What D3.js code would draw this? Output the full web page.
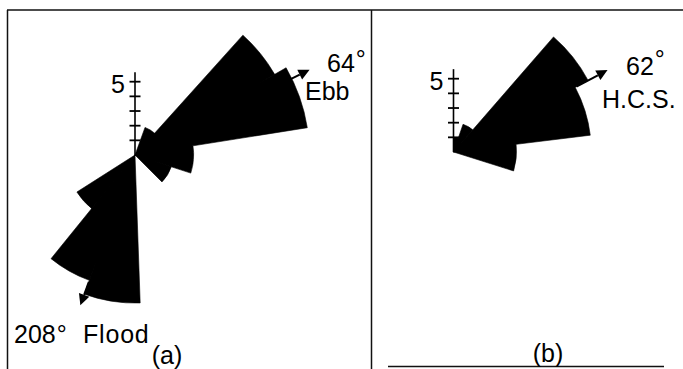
<!DOCTYPE html>
<html><head><meta charset="utf-8">
<script src="https://cdn.jsdelivr.net/npm/d3@7"></script>
<style>
body{margin:0;background:#fff}
svg{display:block}
text{font-family:"Liberation Sans",Arial,sans-serif;fill:#000}
</style>
</head><body>
<svg id="chart" width="683" height="369"></svg>
<script>
// ---- DATA ----
// Panel (a): sector bearings (degrees from north, clockwise) and lengths (scale units)
const binStartA = [20, 42, 60, 81, 108, 178, 200, 219];
const binEndA   = [42, 60, 81, 108, 135, 200, 219, 237.5];
const valuesA   = [2.0, 11.0, 11.9, 4.0, 2.6, 10.1, 9.1, 4.7];
// Panel (b)
const binStartB = [0, 19, 41, 62, 83];
const binEndB   = [19, 41, 62, 83, 107.5];
const valuesB   = [1.0, 2.0, 10.4, 9.4, 4.3];
// Scale ticks
const tickValues = [1, 2, 3, 4, 5];
const tickLabel = "5";
const axisMax = 5.65;
// Mean-direction arrows (bearing, start and end in scale units)
const arrowBearingA = [64, 200];
const arrowFromA    = [11.85, 9.2];
const arrowToA      = [13.25, 10.9];
const arrowBearingB = [62];
const arrowFromB    = [9.5];
const arrowToB      = [11.9];

// ---- LAYOUT ----
const svg = d3.select("#chart");
const r = d3.scaleLinear().domain([0, 5]).range([0, 73.3]);
const deg = d => d * Math.PI / 180;
const FS = 25;

// frame
const frame = svg.append("g").attr("stroke", "#111").attr("stroke-width", 1.5).attr("fill", "none");
frame.append("line").attr("x1", 7).attr("x2", 683).attr("y1", 10).attr("y2", 10);
frame.append("line").attr("x1", 7.5).attr("x2", 7.5).attr("y1", 10).attr("y2", 369);
frame.append("line").attr("x1", 371.5).attr("x2", 371.5).attr("y1", 10).attr("y2", 369);
frame.append("line").attr("x1", 388).attr("x2", 664).attr("y1", 366.5).attr("y2", 366.5);

function panel(cx, cy, starts, ends, vals, aB, aF, aT) {
  const g = svg.append("g").attr("transform", `translate(${cx},${cy})`);
  const data = vals.map((v, i) => ({s: starts[i], e: ends[i], v}));
  const arc = d3.arc().innerRadius(0).outerRadius(d => r(d.v))
    .startAngle(d => deg(d.s)).endAngle(d => deg(d.e));
  // all sectors as one path so adjacent sectors have no seams
  g.append("path").attr("d", data.map(d => arc(d)).join(""))
    .attr("fill", "#000").attr("stroke", "#000").attr("stroke-width", 0.6)
    .attr("stroke-linejoin", "round");
  // scale axis
  g.append("line").attr("x1", 0).attr("x2", 0).attr("y1", 0).attr("y2", -r(axisMax))
    .attr("stroke", "#000").attr("stroke-width", 1.6);
  g.selectAll("line.tick").data(tickValues).join("line").attr("class", "tick")
    .attr("x1", -5.5).attr("x2", 5.5).attr("y1", d => -r(d)).attr("y2", d => -r(d))
    .attr("stroke", "#000").attr("stroke-width", 1.8);
  g.append("text").attr("x", -10).attr("y", -r(5) + 11).attr("text-anchor", "end")
    .attr("font-size", FS).text(tickLabel);
  // arrows
  aB.forEach((b, i) => {
    const a = deg(b);
    const p0 = d3.pointRadial(a, r(aF[i]));
    const tip = d3.pointRadial(a, r(aT[i]));
    const ux = Math.sin(a), uy = -Math.cos(a);
    const hl = 11, hw = 5.5;
    const bx = tip[0] - ux * hl, by = tip[1] - uy * hl;
    g.append("line").attr("x1", p0[0]).attr("y1", p0[1]).attr("x2", bx).attr("y2", by)
      .attr("stroke", "#000").attr("stroke-width", 2);
    g.append("path").attr("d", `M${tip[0]},${tip[1]}L${bx - uy * hw},${by + ux * hw}L${bx + uy * hw},${by - ux * hw}Z`)
      .attr("fill", "#000");
  });
}

panel(135, 155, binStartA, binEndA, valuesA, arrowBearingA, arrowFromA, arrowToA);
panel(453.5, 152, binStartB, binEndB, valuesB, arrowBearingB, arrowFromB, arrowToB);

// labels
const T = (x, y, s, anchor, ls) => svg.append("text").attr("x", x).attr("y", y)
  .attr("font-size", FS).attr("text-anchor", anchor || "start")
  .attr("letter-spacing", ls || 0).text(s);
const D = (x, y, s, lift) => {
  const t = svg.append("text").attr("x", x).attr("y", y).attr("font-size", FS);
  t.append("tspan").text(s);
  t.append("tspan").attr("dy", -lift).attr("dx", 1).text("°");
};
D(327, 72, "64", 4);
T(305, 100, "Ebb");
D(14, 343, "208", 0);
T(83, 343, "Flood", "start", 0.8);
T(167, 364, "(a)", "middle");
D(626, 75, "62", 7);
T(602, 108, "H.C.S.");
T(548, 362, "(b)", "middle");
</script>
</body></html>
